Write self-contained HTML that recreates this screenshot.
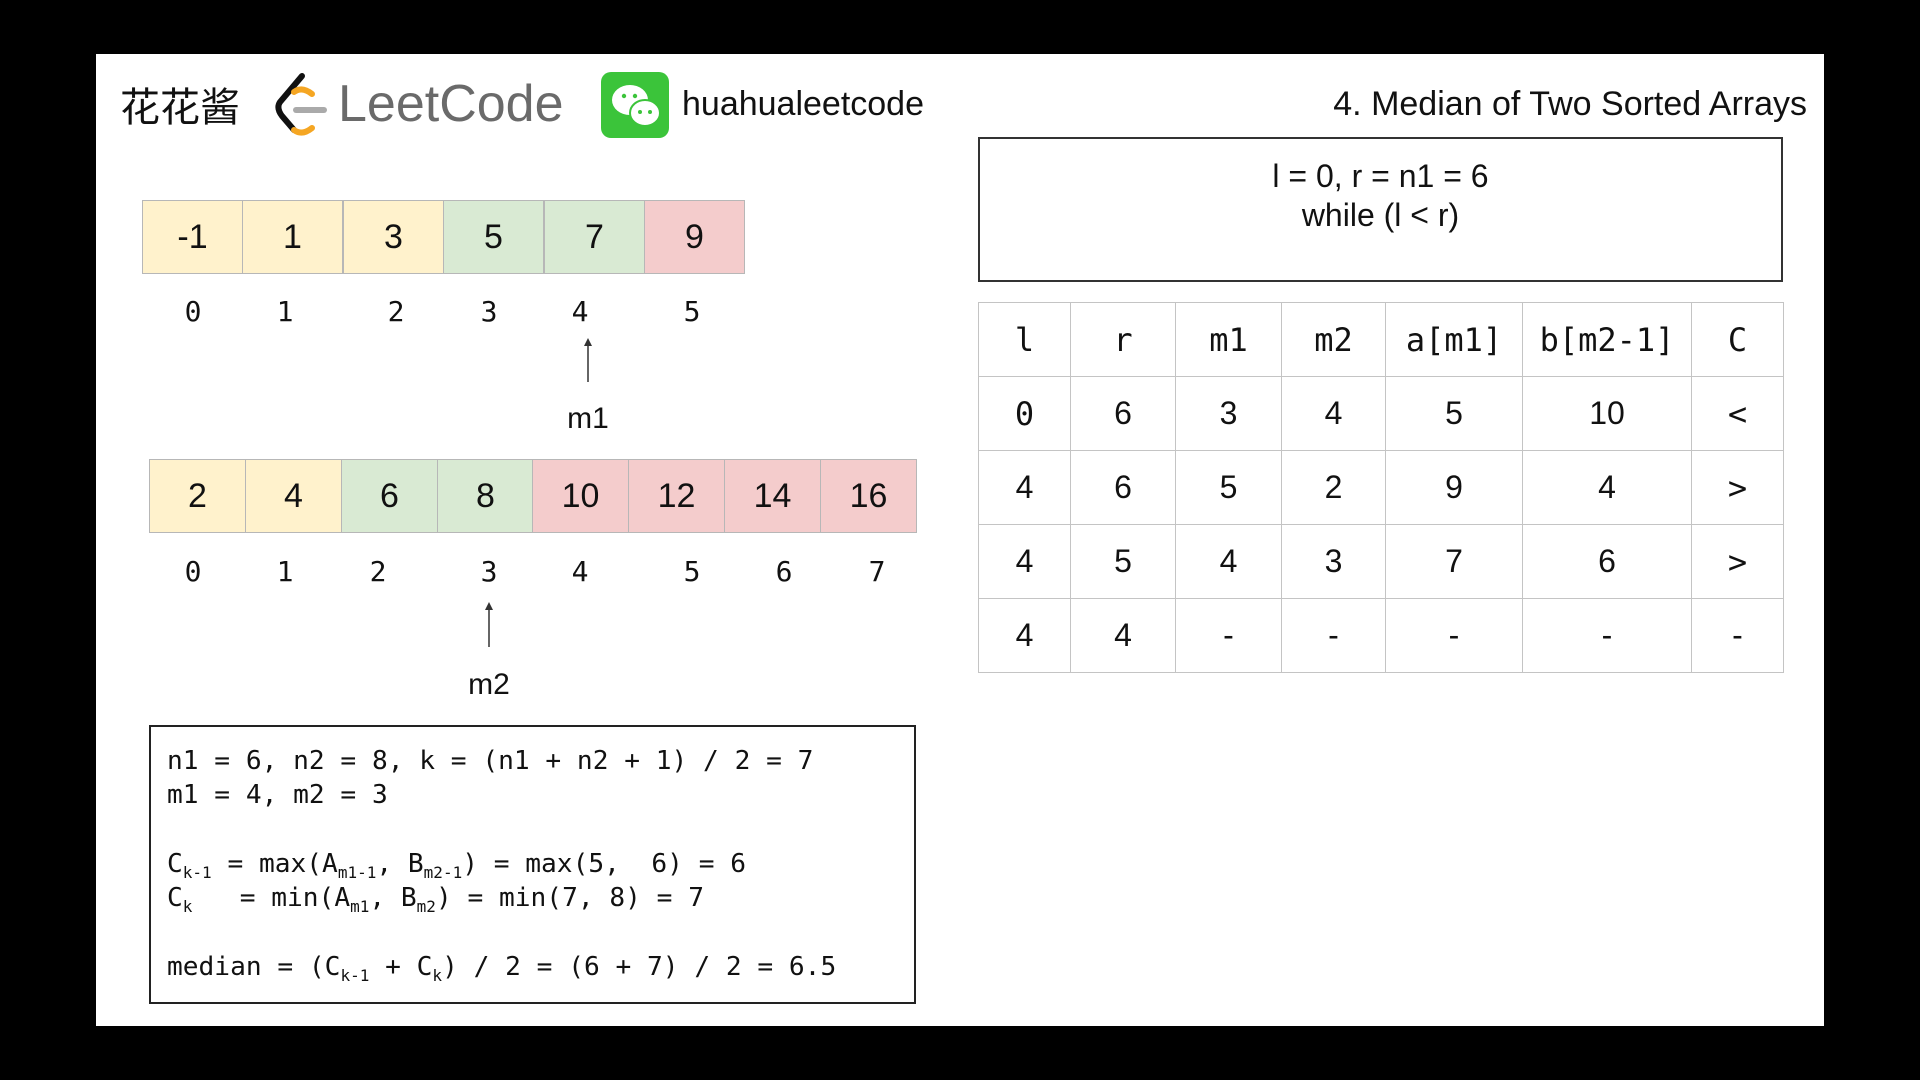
<!DOCTYPE html>
<html><head><meta charset="utf-8"><style>
body{margin:0;width:1920px;height:1080px;background:#000;position:relative;overflow:hidden;font-family:"Liberation Sans",sans-serif}
.p{position:absolute;left:96px;top:54px;width:1728px;height:972px;background:#fff}
.a{position:absolute}
.c{position:absolute;box-sizing:border-box;border:1.5px solid #b7b7b7;display:flex;align-items:center;justify-content:center;font-size:34px;color:#111}
.y{background:#fff2cc}.g{background:#d9ead3}.r{background:#f4cccc}
.i{position:absolute;font-family:"DejaVu Sans Mono","Liberation Mono",monospace;font-size:28px;transform:translateX(-50%);line-height:1;color:#111}
.m{font-family:"DejaVu Sans Mono","Liberation Mono",monospace}
table{position:absolute;left:978px;top:302px;border-collapse:collapse}
td{border:1.5px solid #c4c4c4;height:73px;text-align:center;font-size:32px;padding:0;color:#111}
.code{position:absolute;left:149px;top:725px;width:767px;height:279px;box-sizing:border-box;border:2px solid #222;font-family:"DejaVu Sans Mono","Liberation Mono",monospace;font-size:26.2px;color:#111}
.code div{position:absolute;left:16px;white-space:pre;line-height:1}
sub{font-size:16px;vertical-align:-6px}
</style></head><body>
<div class="p"></div>
<div class="a" style="left:120px;top:84px;font-family:'Noto Sans CJK SC',sans-serif;font-size:40px;line-height:1;color:#111">花花酱</div>
<svg class="a" style="left:272px;top:72px" width="58" height="64" viewBox="0 0 58 64">
<path d="M30 4 L8 30 Q4 36 10 44 L22 58" stroke="#111" stroke-width="6" fill="none" stroke-linecap="round"/>
<path d="M22 58 Q30 64 40 56" stroke="#f5a623" stroke-width="6" fill="none" stroke-linecap="round"/>
<path d="M22 20 Q30 14 40 22" stroke="#f5a623" stroke-width="6" fill="none" stroke-linecap="round"/>
<path d="M24 38 L52 38" stroke="#aaa" stroke-width="6" stroke-linecap="round"/>
</svg>
<div class="a" style="left:338px;top:78px;font-size:52px;line-height:1;color:#6a6a6a">LeetCode</div>
<div class="a" style="left:601px;top:72px;width:68px;height:66px;background:#3bc43a;border-radius:10px"></div>
<svg class="a" style="left:601px;top:72px" width="68" height="66">
<ellipse cx="29" cy="28" rx="18" ry="15" fill="#fff"/>
<ellipse cx="44" cy="41" rx="15" ry="13" fill="#fff" stroke="#3bc43a" stroke-width="2"/>
<circle cx="23" cy="24" r="2.2" fill="#3bc43a"/><circle cx="34" cy="24" r="2.2" fill="#3bc43a"/>
<circle cx="39" cy="40" r="2" fill="#3bc43a"/><circle cx="49" cy="40" r="2" fill="#3bc43a"/>
</svg>
<div class="a" style="left:682px;top:87px;font-size:34px;line-height:1;color:#111">huahualeetcode</div>
<div class="a" style="right:113px;top:87px;font-size:34px;line-height:1;color:#111">4. Median of Two Sorted Arrays</div>

<div class="c y" style="left:142px;top:200px;width:101px;height:74px">-1</div>
<div class="c y" style="left:242px;top:200px;width:101px;height:74px">1</div>
<div class="c y" style="left:343px;top:200px;width:101px;height:74px">3</div>
<div class="c g" style="left:443px;top:200px;width:101px;height:74px">5</div>
<div class="c g" style="left:544px;top:200px;width:101px;height:74px">7</div>
<div class="c r" style="left:644px;top:200px;width:101px;height:74px">9</div>

<div class="i" style="left:193px;top:298px">0</div><div class="i" style="left:285px;top:298px">1</div><div class="i" style="left:396px;top:298px">2</div><div class="i" style="left:489px;top:298px">3</div><div class="i" style="left:580px;top:298px">4</div><div class="i" style="left:692px;top:298px">5</div>
<svg class="a" style="left:578px;top:336px" width="20" height="50"><line x1="10" y1="6" x2="10" y2="46" stroke="#333" stroke-width="1.5"/><path d="M6 10 L10 2 L14 10Z" fill="#333"/></svg>
<div class="i" style="left:588px;top:404px;font-family:'Liberation Sans',sans-serif;font-size:30px">m1</div>

<div class="c y" style="left:149px;top:459px;width:97px;height:74px">2</div>
<div class="c y" style="left:245px;top:459px;width:97px;height:74px">4</div>
<div class="c g" style="left:341px;top:459px;width:97px;height:74px">6</div>
<div class="c g" style="left:437px;top:459px;width:97px;height:74px">8</div>
<div class="c r" style="left:532px;top:459px;width:97px;height:74px">10</div>
<div class="c r" style="left:628px;top:459px;width:97px;height:74px">12</div>
<div class="c r" style="left:724px;top:459px;width:97px;height:74px">14</div>
<div class="c r" style="left:820px;top:459px;width:97px;height:74px">16</div>

<div class="i" style="left:193px;top:558px">0</div><div class="i" style="left:285px;top:558px">1</div><div class="i" style="left:378px;top:558px">2</div><div class="i" style="left:489px;top:558px">3</div><div class="i" style="left:580px;top:558px">4</div><div class="i" style="left:692px;top:558px">5</div><div class="i" style="left:784px;top:558px">6</div><div class="i" style="left:877px;top:558px">7</div>
<svg class="a" style="left:479px;top:600px" width="20" height="50"><line x1="10" y1="6" x2="10" y2="47" stroke="#333" stroke-width="1.5"/><path d="M6 10 L10 2 L14 10Z" fill="#333"/></svg>
<div class="i" style="left:489px;top:670px;font-family:'Liberation Sans',sans-serif;font-size:30px">m2</div>

<div class="code">
<div style="top:21px">n1 = 6, n2 = 8, k = (n1 + n2 + 1) / 2 = 7</div>
<div style="top:55px">m1 = 4, m2 = 3</div>
<div style="top:124px">C<sub>k-1</sub> = max(A<sub>m1-1</sub>, B<sub>m2-1</sub>) = max(5,  6) = 6</div>
<div style="top:158px">C<sub>k</sub>   = min(A<sub>m1</sub>, B<sub>m2</sub>) = min(7, 8) = 7</div>
<div style="top:227px">median = (C<sub>k-1</sub> + C<sub>k</sub>) / 2 = (6 + 7) / 2 = 6.5</div>
</div>

<div class="a" style="left:978px;top:137px;width:805px;height:145px;box-sizing:border-box;border:2px solid #333;text-align:center;font-size:32px;line-height:39px;padding-top:18px;color:#111">l = 0, r = n1 = 6<br>while (l &lt; r)</div>

<table>
<tr><td class="m" style="width:91px">l</td><td class="m" style="width:104px">r</td><td class="m" style="width:105px">m1</td><td class="m" style="width:103px">m2</td><td class="m" style="width:136px">a[m1]</td><td class="m" style="width:168px">b[m2-1]</td><td class="m" style="width:91px">C</td></tr>
<tr><td class="m">0</td><td>6</td><td>3</td><td>4</td><td>5</td><td>10</td><td class="m">&lt;</td></tr>
<tr><td>4</td><td>6</td><td>5</td><td>2</td><td>9</td><td>4</td><td class="m">&gt;</td></tr>
<tr><td>4</td><td>5</td><td>4</td><td>3</td><td>7</td><td>6</td><td class="m">&gt;</td></tr>
<tr><td>4</td><td>4</td><td>-</td><td>-</td><td>-</td><td>-</td><td>-</td></tr>
</table>
</body></html>
